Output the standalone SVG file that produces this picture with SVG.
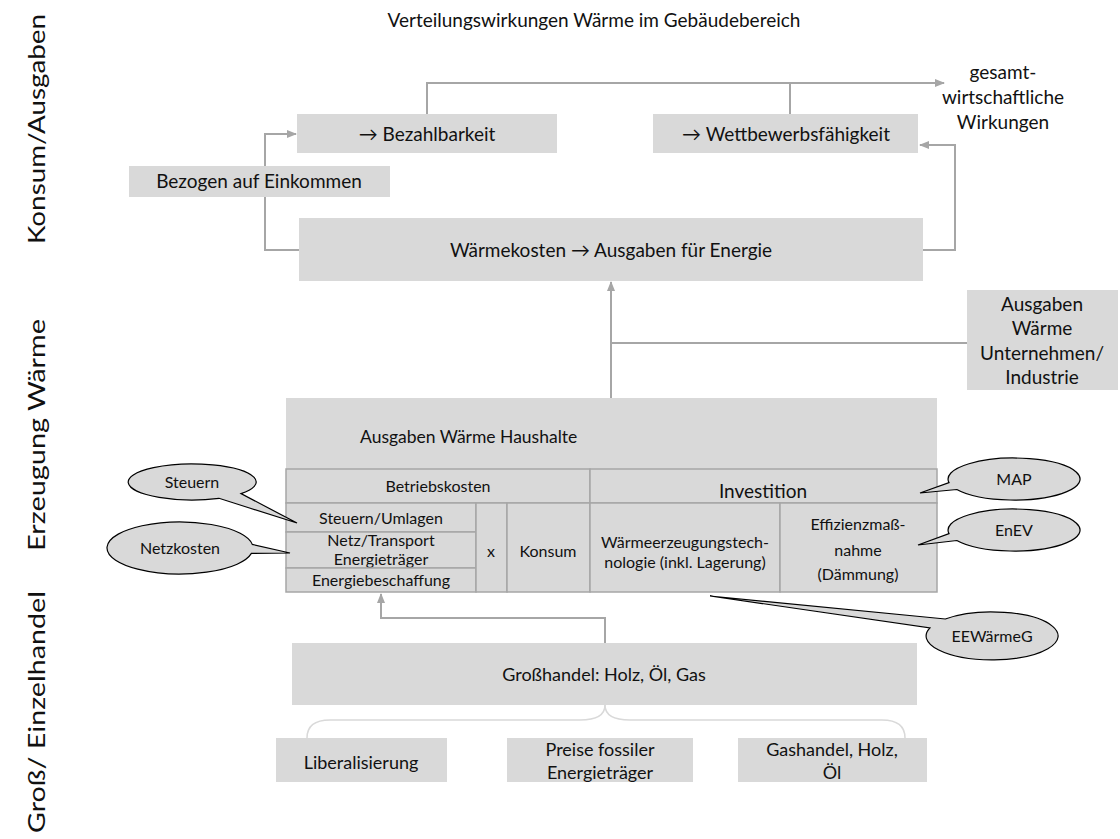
<svg xmlns="http://www.w3.org/2000/svg" width="1120" height="839" viewBox="0 0 1120 839">
<defs>
<style>
text{font-family:"Lato","Liberation Sans","DejaVu Sans",sans-serif;fill:#111;}
.box{fill:#d9d9d9;}
.cell{fill:#d9d9d9;stroke:#a6a6a6;stroke-width:1.5;}
.con{fill:none;stroke:#a6a6a6;stroke-width:2;}
.brk{fill:none;stroke:#d9d9d9;stroke-width:1.5;}
.call{fill:#d9d9d9;stroke:#000;stroke-width:1.2;}
.t19{font-size:19px;text-anchor:middle;}
.t18{font-size:18px;text-anchor:middle;}
.t16{font-size:16px;text-anchor:middle;}
.side{font-size:24px;text-anchor:middle;}
</style>
<marker id="ah" markerWidth="10" markerHeight="10" refX="9" refY="5" orient="auto" markerUnits="userSpaceOnUse">
<path d="M0,1 L10,5 L0,9 Z" fill="#a6a6a6"/>
</marker>
</defs>
<rect width="1120" height="839" fill="#fff"/>

<text x="594" y="27" style="font-size:19px;text-anchor:middle">Verteilungswirkungen Wärme im Gebäudebereich</text>

<g id="side-labels">
<text class="side" transform="translate(45,129) rotate(-90)" textLength="230" lengthAdjust="spacingAndGlyphs">Konsum/Ausgaben</text>
<text class="side" transform="translate(45,435) rotate(-90)" textLength="232" lengthAdjust="spacingAndGlyphs">Erzeugung Wärme</text>
<text class="side" transform="translate(45,712) rotate(-90)" textLength="242" lengthAdjust="spacingAndGlyphs">Groß/ Einzelhandel</text>
</g>

<g id="connectors">
<polyline class="con" points="427,114 427,83 790,83"/>
<line class="con" x1="790" y1="83" x2="944" y2="83" marker-end="url(#ah)"/>
<line class="con" x1="790" y1="114" x2="790" y2="83"/>
<polyline class="con" points="299,250 265,250 265,134 296,134" marker-end="url(#ah)"/>
<polyline class="con" points="923,250 955,250 955,145 920,145" marker-end="url(#ah)"/>
<line class="con" x1="611" y1="398" x2="611" y2="282" marker-end="url(#ah)"/>
<line class="con" x1="611" y1="343" x2="967" y2="343"/>
<polyline class="con" points="605,643 605,618 381,618 381,594" marker-end="url(#ah)"/>
<path class="brk" d="M605,705 Q605,720 580,720 L330,720 Q307,720 307,738"/>
<path class="brk" d="M605,705 Q605,720 630,720 L882,720 Q905,720 905,738"/>
</g>

<g id="bezahlbarkeit"><rect class="box" x="297" y="114" width="260" height="39"/><text class="t19" x="427" y="141">→ Bezahlbarkeit</text></g>
<g id="wettbewerb"><rect class="box" x="653" y="114" width="265" height="39"/><text class="t19" x="786" y="141">→ Wettbewerbsfähigkeit</text></g>
<g id="einkommen"><rect class="box" x="129" y="166" width="261" height="31"/><text class="t19" x="259" y="188">Bezogen auf Einkommen</text></g>
<g id="gesamt"><text class="t19" x="1003" y="79">gesamt-</text><text class="t19" x="1003" y="104">wirtschaftliche</text><text class="t19" x="1003" y="129">Wirkungen</text></g>
<g id="waermekosten"><rect class="box" x="299" y="218" width="624" height="63"/><text class="t19" x="611" y="257">Wärmekosten → Ausgaben für Energie</text></g>
<g id="unternehmen"><rect class="box" x="967" y="290" width="151" height="100"/>
<text class="t19" x="1042" y="311">Ausgaben</text><text class="t19" x="1042" y="335">Wärme</text><text class="t19" x="1042" y="360">Unternehmen/</text><text class="t19" x="1042" y="384">Industrie</text></g>

<g id="haushalte">
<rect class="box" x="286" y="398" width="651" height="194"/>
<text x="360" y="443" style="font-size:17.5px">Ausgaben Wärme Haushalte</text>
<rect class="cell" x="286" y="469" width="304" height="34"/><text class="t16" x="438" y="492">Betriebskosten</text>
<rect class="cell" x="590" y="469" width="347" height="34"/><text class="t19" x="763" y="498">Investition</text>
<rect class="cell" x="286" y="503" width="190" height="29"/><text class="t16" x="381" y="524">Steuern/Umlagen</text>
<rect class="cell" x="286" y="532" width="190" height="36"/><text class="t16" x="381" y="546">Netz/Transport</text><text class="t16" x="381" y="565">Energieträger</text>
<rect class="cell" x="286" y="568" width="190" height="24"/><text class="t16" x="381" y="586">Energiebeschaffung</text>
<rect class="cell" x="476" y="503" width="31" height="89"/><text class="t16" x="491" y="557">x</text>
<rect class="cell" x="507" y="503" width="83" height="89"/><text class="t16" x="548" y="557">Konsum</text>
<rect class="cell" x="590" y="503" width="190" height="89"/><text class="t16" x="685" y="548">Wärmeerzeugungstech-</text><text class="t16" x="685" y="568">nologie (inkl. Lagerung)</text>
<rect class="cell" x="780" y="503" width="157" height="89"/><text class="t16" x="858" y="530">Effizienzmaß-</text><text class="t16" x="858" y="556">nahme</text><text class="t16" x="858" y="580">(Dämmung)</text>
</g>

<g id="call-steuern"><path class="call" d="M219,498.3 A64,18 0 1 1 241,493.6 L297,523 Z"/><text class="t16" x="192" y="488">Steuern</text></g>
<g id="call-netzkosten"><path class="call" d="M251.4,553.4 A73,26 0 1 1 252.3,544.4 L290,553 Z"/><text class="t16" x="180" y="554">Netzkosten</text></g>
<g id="call-map"><path class="call" d="M949,482.6 A66,21 0 1 1 956.8,489.5 L920,493 Z"/><text class="t16" x="1014" y="485">MAP</text></g>
<g id="call-enev"><path class="call" d="M949,533.6 A66,21 0 1 1 956.8,540.5 L918,545 Z"/><text class="t16" x="1014" y="536">EnEV</text></g>
<g id="call-eewaermeg"><path class="call" d="M945.3,619 A66,24 0 1 1 930,627.8 L710,596 Z"/><text class="t16" x="992" y="642">EEWärmeG</text></g>

<g id="grosshandel"><rect class="box" x="292" y="643" width="625" height="62"/><text class="t18" x="604" y="681">Großhandel: Holz, Öl, Gas</text></g>
<g id="liberalisierung"><rect class="box" x="276" y="738" width="171" height="44"/><text class="t18" x="361" y="769">Liberalisierung</text></g>
<g id="preise"><rect class="box" x="507" y="738" width="186" height="44"/><text class="t18" x="600" y="756">Preise fossiler</text><text class="t18" x="600" y="779">Energieträger</text></g>
<g id="gashandel"><rect class="box" x="738" y="738" width="189" height="44"/><text class="t18" x="832" y="756">Gashandel, Holz,</text><text class="t18" x="832" y="779">Öl</text></g>
</svg>
